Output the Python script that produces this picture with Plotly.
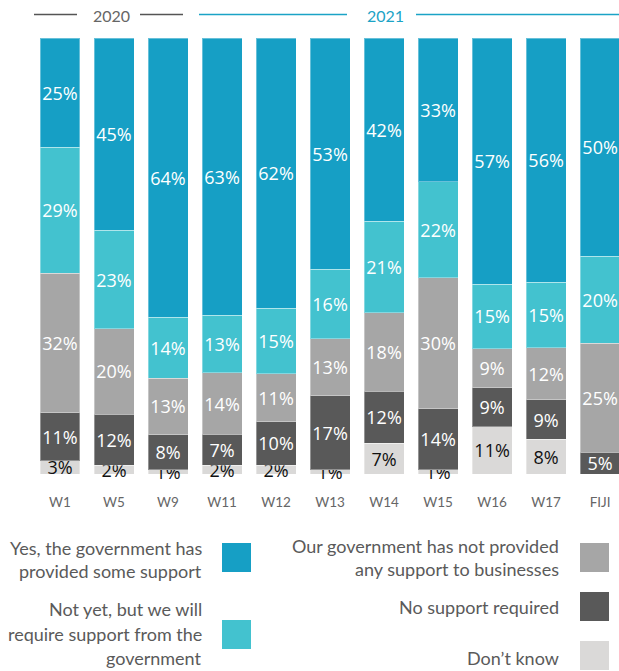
import plotly.graph_objects as go

categories = ["W1", "W5", "W9", "W11", "W12", "W13", "W14", "W15", "W16", "W17", "FIJI"]
yes_support = [25, 45, 64, 63, 62, 53, 42, 33, 57, 56, 50]
not_yet = [29, 23, 14, 13, 15, 16, 21, 22, 15, 15, 20]
not_provided = [32, 20, 13, 14, 11, 13, 18, 30, 9, 12, 25]
no_support = [11, 12, 8, 7, 10, 17, 12, 14, 9, 9, 5]
dont_know = [3, 2, 1, 2, 2, 1, 7, 1, 11, 8, 0]

series_names = [
    "Yes, the government has provided some support",
    "Not yet, but we will require support from the government",
    "Our government has not provided any support to businesses",
    "No support required",
    "Don\u2019t know",
]
legend_lines = [
    ["Yes, the government has", "provided some support"],
    ["Not yet, but we will", "require support from the", "government"],
    ["Our government has not provided", "any support to businesses"],
    ["No support required"],
    ["Don\u2019t know"],
]
year_labels = ["2020", "2021"]

colors = ["#169FC5", "#43C2CF", "#A6A6A6", "#595959", "#DAD9D8"]
text_colors = ["white", "white", "white", "white", "#111111"]

W, H = 619, 671
L, R_EDGE, TOP, BOT = 33, 619, 38, 474


def px(x):
    return (x - L) / (R_EDGE - L)


def py(y):
    return (BOT - y) / (BOT - TOP)


fig = go.Figure()
values = [yes_support, not_yet, not_provided, no_support, dont_know]
# stack from bottom: dont_know first
for idx in [4, 3, 2, 1, 0]:
    vals = values[idx]
    fig.add_trace(go.Bar(
        x=categories,
        y=vals,
        name=series_names[idx],
        marker=dict(color=colors[idx], line=dict(color="rgba(255,255,255,0.35)", width=1)),
        text=[f"{v}%" if v > 0 else "" for v in vals],
        texttemplate="%{text}",
        textposition="inside",
        insidetextanchor="middle",
        textangle=0,
        insidetextfont=dict(family="Open Sans", size=18, color=text_colors[idx]),
        showlegend=False,
        cliponaxis=False,
        hoverinfo="skip",
    ))

fig.update_layout(
    barmode="stack",
    barnorm="percent",
    bargap=0.26,
    width=W,
    height=H,
    margin=dict(l=L, r=W - R_EDGE, t=TOP, b=H - BOT),
    plot_bgcolor="white",
    paper_bgcolor="white",
    uniformtext=dict(minsize=18, mode="show"),
    xaxis=dict(
        range=[-0.5, 10.35],
        showgrid=False, zeroline=False, showline=False, ticks="",
        tickfont=dict(family="Lato", size=13.5, color="#666666"),
        ticklabelstandoff=18,
    ),
    yaxis=dict(range=[0, 100], visible=False),
)

shapes = []
annotations = []

# header
gray_line = "#555555"
blue_line = "#1BA3C6"
for x0, x1, c in [(34, 77, gray_line), (140, 183, gray_line), (199, 347, blue_line), (416, 619, blue_line)]:
    shapes.append(dict(type="line", xref="paper", yref="paper", x0=px(x0), x1=px(x1),
                       y0=py(14.5), y1=py(14.5), line=dict(color=c, width=1.5)))
annotations.append(dict(text=year_labels[0], xref="paper", yref="paper", x=px(111), y=py(15),
                        showarrow=False, xanchor="center", yanchor="middle",
                        font=dict(family="Lato", size=16, color="#666666")))
annotations.append(dict(text=year_labels[1], xref="paper", yref="paper", x=px(385), y=py(15),
                        showarrow=False, xanchor="center", yanchor="middle",
                        font=dict(family="Lato", size=16, color=blue_line)))

# legend
squares = [
    (222, 543), (222, 620), (580, 543), (580, 592), (580, 641),
]
text_right = [204, 204, 561, 561, 561]
line_ys = [
    [548, 571],
    [609, 634, 658],
    [546, 569],
    [607],
    [658],
]
for i in range(5):
    sx, sy = squares[i]
    shapes.append(dict(type="rect", xref="paper", yref="paper", x0=px(sx), x1=px(sx + 29),
                       y0=py(sy), y1=py(sy + 29), fillcolor=colors[i], line=dict(width=0)))
    for line, ly in zip(legend_lines[i], line_ys[i]):
        annotations.append(dict(text=line, xref="paper", yref="paper", x=px(text_right[i]), y=py(ly),
                                showarrow=False, xanchor="right", yanchor="middle",
                                font=dict(family="Lato", size=18, color="#5a5a5a")))

fig.update_layout(shapes=shapes, annotations=annotations)
fig.write_html("out.html", config={"displayModeBar": False},
               post_script="document.body.style.margin='0';document.body.style.overflow='hidden';")
